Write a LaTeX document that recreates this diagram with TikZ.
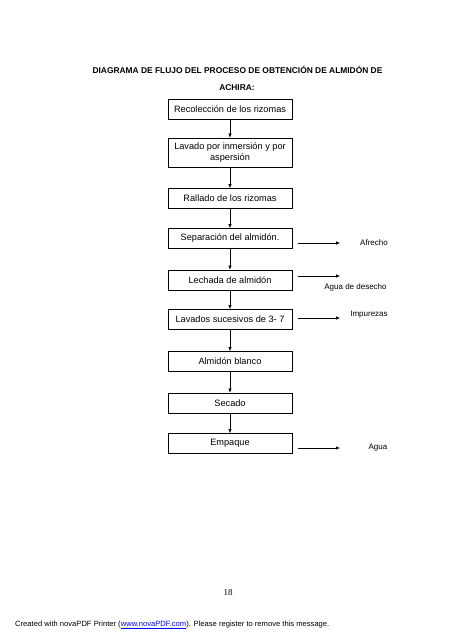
\documentclass[tikz,border=0pt]{standalone}
\usepackage{fontspec}
\setmainfont{Liberation Sans}
\newfontfamily\pagefont{Liberation Serif}
\usetikzlibrary{arrows.meta}
\tikzstyle{stepbox}=[draw,line width=0.7pt,minimum width=124pt,minimum height=20pt,align=center,inner sep=1pt,font=\fontsize{9.2}{10.5}\selectfont]
\tikzstyle{outlabel}=[inner sep=0pt,font=\fontsize{8}{9}\selectfont]
\tikzstyle{flow}=[line width=0.6pt,-{Latex[length=4pt,width=3.5pt]}]

\begin{document}
\begin{tikzpicture}[x=1pt,y=-1pt]
    \useasboundingbox (0,0) rectangle (453,640);
    \node[font=\fontsize{8.4}{9}\selectfont\bfseries] (t1) at (237.5,70) {DIAGRAMA DE FLUJO DEL PROCESO DE OBTENCIÓN DE ALMIDÓN DE};
    \node[font=\fontsize{8.4}{9}\selectfont\bfseries] (t2) at (237,88) {ACHIRA:};

    \node[stepbox] (s1) at (230,109.5) {Recolección de los rizomas};
    \node[stepbox,minimum height=29pt] (s2) at (230,152.5) {Lavado por inmersión y por\\aspersión};
    \node[stepbox] (s3) at (230,198.5) {Rallado de los rizomas};
    \node[stepbox] (s4) at (230,238.5) {Separación del almidón.};
    \node[stepbox] (s5) at (230,280) {Lechada de almidón};
    \node[stepbox] (s6) at (230,319.5) {Lavados sucesivos de 3- 7};
    \node[stepbox] (s7) at (230,361.5) {Almidón blanco};
    \node[stepbox] (s8) at (230,403) {Secado};
    \node[stepbox] (s9) at (230,443.5) {Empaque};

    \foreach \from/\to in {s1/s2,s2/s3,s3/s4,s4/s5,s5/s6,s6/s7,s7/s8,s8/s9}
    \draw[flow] (\from) -- (\to);

    % salidas laterales
    \coordinate (o4) at (298,243);
    \coordinate (o5) at (298,276);
    \coordinate (o6) at (298,318);
    \coordinate (o9) at (298,448);
    \node[outlabel] (afrecho) at (374,243) {Afrecho};
    \node[outlabel] (desecho) at (355.5,287) {Agua de desecho};
    \node[outlabel] (impurezas) at (369,315) {Impurezas};
    \node[outlabel] (agua) at (378,448) {Agua};
    \foreach \p in {o4,o5,o6,o9}
    \draw[flow] (\p) -- ++(42,0);

    \node[font=\pagefont\fontsize{9}{10}\selectfont] (pg) at (228,593) {18};
    \node[anchor=west,inner sep=0pt,font=\fontsize{7.6}{9}\selectfont] (nova) at (15,625)
        {Created with novaPDF Printer (\textcolor{blue}{\underline{www.novaPDF.com}}). Please register to remove this message.};
\end{tikzpicture}
\end{document}
